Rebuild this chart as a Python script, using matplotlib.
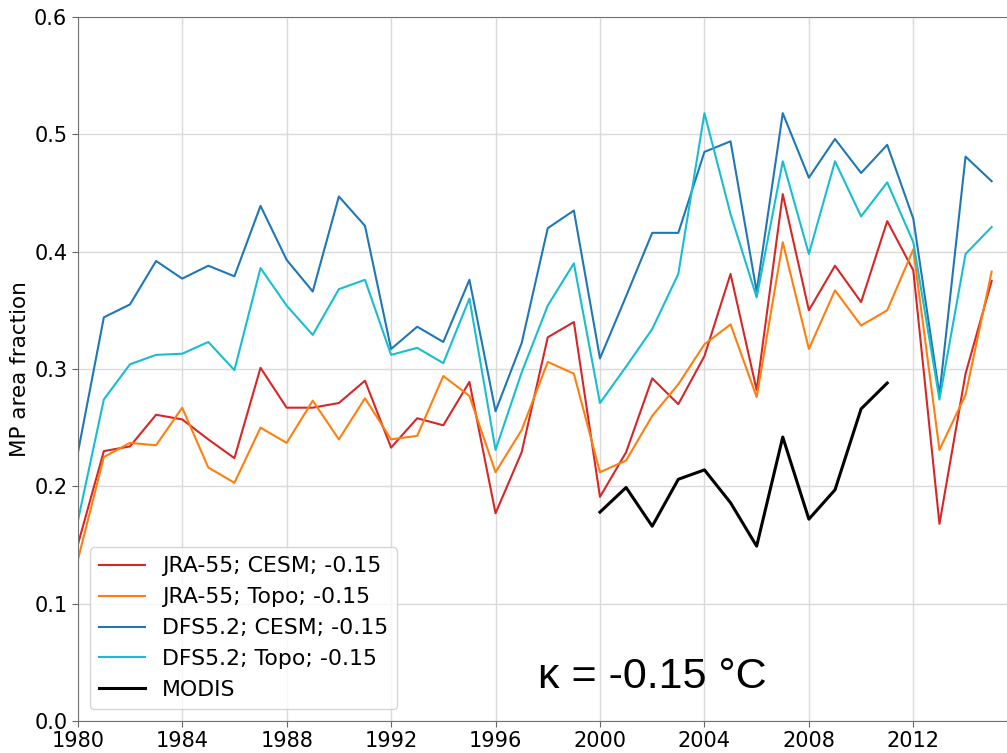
import numpy as np
import matplotlib
matplotlib.use("Agg")
import matplotlib.pyplot as plt

# melt-pond area fraction, kappa = -0.15 degC
years = np.arange(1980, 2016)
modis_years = np.arange(2000, 2012)

jra_cesm = [0.150, 0.230, 0.234, 0.261, 0.257, 0.240, 0.224, 0.301, 0.267, 0.267,
            0.271, 0.290, 0.233, 0.258, 0.252, 0.289, 0.177, 0.229, 0.327, 0.340,
            0.191, 0.229, 0.292, 0.270, 0.311, 0.381, 0.282, 0.449, 0.350, 0.388,
            0.357, 0.426, 0.384, 0.168, 0.296, 0.375]
jra_topo = [0.137, 0.225, 0.237, 0.235, 0.267, 0.216, 0.203, 0.250, 0.237, 0.273,
            0.240, 0.275, 0.240, 0.243, 0.294, 0.277, 0.212, 0.248, 0.306, 0.296,
            0.212, 0.222, 0.260, 0.287, 0.321, 0.338, 0.276, 0.408, 0.317, 0.367,
            0.337, 0.350, 0.402, 0.231, 0.278, 0.383]
dfs_cesm = [0.228, 0.344, 0.355, 0.392, 0.377, 0.388, 0.379, 0.439, 0.393, 0.366,
            0.447, 0.422, 0.317, 0.336, 0.323, 0.376, 0.264, 0.322, 0.420, 0.435,
            0.309, 0.362, 0.416, 0.416, 0.485, 0.494, 0.366, 0.518, 0.463, 0.496,
            0.467, 0.491, 0.428, 0.278, 0.481, 0.460]
dfs_topo = [0.170, 0.274, 0.304, 0.312, 0.313, 0.323, 0.299, 0.386, 0.354, 0.329,
            0.368, 0.376, 0.312, 0.318, 0.305, 0.360, 0.231, 0.297, 0.354, 0.390,
            0.271, 0.302, 0.334, 0.381, 0.518, 0.432, 0.361, 0.477, 0.398, 0.477,
            0.430, 0.459, 0.408, 0.274, 0.398, 0.421]
modis = [0.178, 0.199, 0.166, 0.206, 0.214, 0.186, 0.149, 0.242, 0.172, 0.197,
         0.266, 0.288]

fig = plt.figure(figsize=(10.07, 7.53), dpi=100)
ax = fig.add_axes([0.0772, 0.0425, 0.9335, 0.935])

ax.plot(years, jra_cesm, color='#d62728', lw=1.5, label='JRA-55; CESM; -0.15')
ax.plot(years, jra_topo, color='#ff7f0e', lw=1.5, label='JRA-55; Topo; -0.15')
ax.plot(years, dfs_cesm, color='#1f77b4', lw=1.5, label='DFS5.2; CESM; -0.15')
ax.plot(years, dfs_topo, color='#17becf', lw=1.5, label='DFS5.2; Topo; -0.15')
ax.plot(modis_years, modis, color='black', lw=2.2, label='MODIS')

ax.set_xlim(1980, 2016)
ax.set_ylim(0.0, 0.6)
ax.set_xticks(np.arange(1980, 2013, 4))
ax.set_yticks(np.arange(0.0, 0.61, 0.1))
ax.tick_params(labelsize=15, color='0.4', length=4)
ax.grid(True, color='#dadada', lw=1)
ax.set_axisbelow(True)
for side in ax.spines.values():
    side.set_color('0.45')
ax.set_ylabel('MP area fraction', fontsize=15.5, labelpad=3)

ax.legend(loc='lower left', fontsize=15.8, handlelength=2.1, borderaxespad=0.55)
ax.text(0.611, 0.0625, u'\u03ba = -0.15 \u00b0C', transform=ax.transAxes,
        fontsize=31, family='Liberation Sans', ha='center', va='center')

fig.savefig('out.png', dpi=100)
